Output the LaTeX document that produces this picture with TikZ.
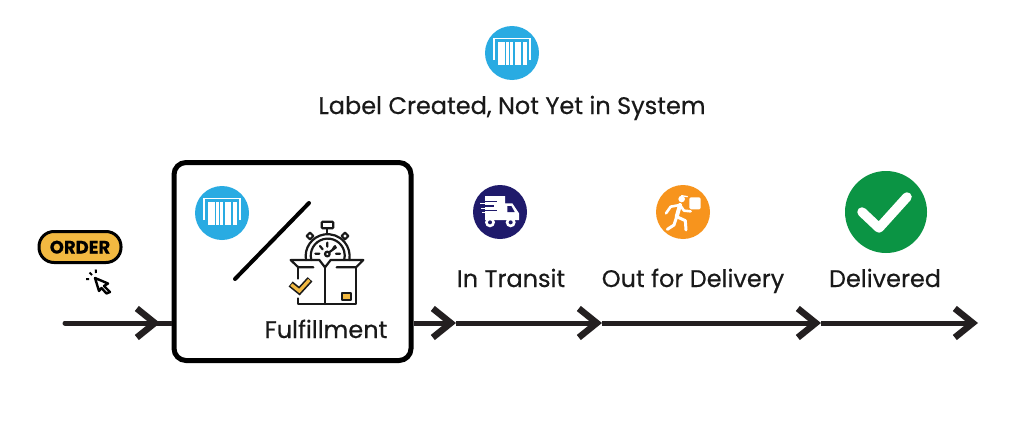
\documentclass[tikz,border=0pt]{standalone}
\usepackage{fontspec}
\setmainfont{Poppins}[FakeBold=0.4]
\usetikzlibrary{arrows.meta}
\definecolor{cblue}{HTML}{29ABE2}
\definecolor{cnavy}{HTML}{1F1A6B}
\definecolor{corange}{HTML}{F7941D}
\definecolor{cgreen}{HTML}{0B9444}
\definecolor{cyell}{HTML}{F2B941}
\definecolor{cline}{HTML}{231F20}
\tikzset{
  x=1pt,y=-1pt,
  lbl/.style={anchor=base,inner sep=0pt,font=\fontsize{24}{28}\selectfont,text=black!90},
  disc/.style={circle,inner sep=0pt,minimum size=54pt,fill=#1},
  flow/.style={line width=5pt,draw=cline},
  flowtip/.style={flow,-{Straight Barb[length=18pt,width=29pt,line width=6.5pt]}},
  ic/.style={line width=2.2pt,draw=black!90,line cap=round,line join=round},
  wl/.style={draw=white,line cap=round,line join=round},
  pics/barcode/.style={code={
    \draw[white,line width=1.7pt] (-18,7) -- (-18,-14.5) -- (18,-14.5) -- (18,7);
    \fill[white] (-14,-11) rectangle (-7.5,12);
    \fill[white] (-6,-11) rectangle (-3.5,12);
    \fill[white] (-2,-11) rectangle (1,12);
    \fill[white] (2.5,-11) rectangle (9,12);
    \fill[white] (10.5,-11) rectangle (14.5,12);
  }}
}
\begin{document}
\begin{tikzpicture}
\useasboundingbox[fill=white] (0,0) rectangle (1024,428);
% top icon and title
\node[disc=cblue] (topicon) at (512,53) {};
\pic at (topicon.center) {barcode};
\node[lbl] (title) at (512,114) {Label Created, Not Yet in System};
% box
\node[draw=black,line width=5pt,rounded corners=12pt,minimum width=237pt,minimum height=198pt,inner sep=0pt,fill=white] (box) at (292.5,261.5) {};
\node[disc=cblue] (boxicon) at (222,213) {};
\pic at (boxicon.center) {barcode};
\coordinate (sl1) at (235,279);
\coordinate (sl2) at (309,203);
\draw[line width=4pt,line cap=round] (sl1) -- (sl2);
\node[lbl] (ful) at (326,338) {Fulfillment};
% stopwatch and carton
\begin{scope}[shift={(270,210)},scale=1/3]
  \draw[ic] (108,150) arc[start angle=170,end angle=370,radius=66];
  \draw[ic] (124,150) arc[start angle=165,end angle=375,radius=51];
  \draw[ic,rounded corners=1pt] (155,35) rectangle (190,55);
  \draw[ic] (172,55) -- (172,70);
  \draw[ic] (120,68) -- (130,78) -- (120,88) -- (110,78) -- cycle;
  \draw[ic] (225,68) -- (235,78) -- (225,88) -- (215,78) -- cycle;
  \draw[ic] (172,98) -- (172,110) (150,108) -- (158,118) (195,108) -- (188,118)
            (136,131) -- (148,131) (198,131) -- (210,131) (176,128) -- (198,112);
  \draw[ic] (172,132) circle (7);
  \draw[ic] (62,150) -- (148,150) -- (165,172) -- (182,150) -- (280,150) -- (258,172) -- (200,172);
  \draw[ic] (130,172) -- (85,172) -- (62,150);
  \draw[ic] (85,172) -- (85,206);
  \draw[ic] (85,265) -- (85,282) -- (258,282) -- (258,172);
  \draw[ic] (165,172) -- (165,282);
  \draw[black!90,line width=6.5pt,line join=miter] (62,222) -- (88,243) -- (120,208);
  \draw[cyell,line width=3.2pt] (64,224) -- (88,243) -- (118,210);
  \draw[ic,fill=cyell] (216,250) rectangle (244,269);
\end{scope}
% order pill and cursor
\node[draw=black,line width=3pt,fill=cyell,rounded corners=15pt,minimum width=82pt,minimum height=31pt,inner sep=0pt] (order) at (80,247) {};
\node[anchor=base,inner sep=0pt,font=\fontsize{18}{20}\bfseries\selectfont] (ordertxt) at (80,253.5) {ORDER};
\draw[line width=2.4pt,line join=round,fill=white] (95,278) -- (108,283.5) -- (104,286) -- (110,292) -- (106.5,293.5) -- (101.5,288) -- (99,291) -- cycle;
\draw[line width=2pt] (95.7,269.5) -- (96,273) (86,279) -- (89,279) (89.5,272.5) -- (92,275);
% status icons
\node[disc=cnavy] (truck) at (500,212) {};
\begin{scope}[shift={(450,170)},scale=1/3]
  \fill[white] (105,78) -- (165,78) -- (165,100) -- (187,100) -- (207,130) -- (207,150) -- (105,150) -- cycle;
  \fill[cnavy] (172,108) -- (184,108) -- (194,126) -- (172,126) -- cycle;
  \draw[cnavy,line width=1.3pt] (90,94) -- (140,94) (90,108) -- (132,108) (90,122) -- (140,122);
  \draw[white,line width=1.3pt] (104,86) -- (130,86) (90,101) -- (128,101) (94,115) -- (126,115) (96,128) -- (120,128);
  \fill[white] (120,157) circle (15);
  \fill[white] (182,157) circle (15);
  \fill[cnavy] (120,157) circle (6);
  \fill[cnavy] (182,157) circle (6);
\end{scope}
\node[disc=corange] (runner) at (683,212) {};
\begin{scope}[shift={(450,170)},scale=1/3]
  \fill[white,rounded corners=1.5pt] (718,82) rectangle (752,118);
  \fill[white] (695,87) circle (10);
  \draw[wl,line width=1.3pt] (695,77) -- (712,80);
  \draw[wl,line width=4pt] (690,105) -- (680,140);
  \draw[wl,line width=2.6pt] (648,130) -- (662,110) -- (690,105) -- (702,122) -- (722,124);
  \draw[wl,line width=3pt] (680,140) -- (672,165) -- (652,178);
  \draw[wl,line width=3pt] (680,140) -- (706,152) -- (708,180);
\end{scope}
\node[disc=cgreen,minimum size=82pt] (done) at (886,212) {};
\coordinate (ck1) at (862,212);
\coordinate (ck2) at (879,228);
\coordinate (ck3) at (907,197);
\draw[white,line width=9.5pt,line join=round,line cap=round] (ck1) -- (ck2) -- (ck3);
% labels
\node[lbl] (l1) at (511,287) {In Transit};
\node[lbl] (l2) at (693,287) {Out for Delivery};
\node[lbl] (l3) at (885,287) {Delivered};
% flow
\coordinate (s) at (65,323);
\coordinate (t0) at (160,323);
\coordinate (bi) at (box.west |- s);
\coordinate (bo) at (box.east |- s);
\coordinate (t1) at (456,323);
\coordinate (t2) at (602,323);
\coordinate (t3) at (821,323);
\coordinate (t4) at (978,323);
\draw[flow,line cap=round] (s) -- (t0);
\draw[flowtip] (s) -- (t0);
\draw[flow] (t0) -- (bi);
\draw[flowtip] (bo) -- (t1);
\draw[flowtip] (t1) -- (t2);
\draw[flowtip] (t2) -- (t3);
\draw[flowtip] (t3) -- (t4);
\end{tikzpicture}
\end{document}
